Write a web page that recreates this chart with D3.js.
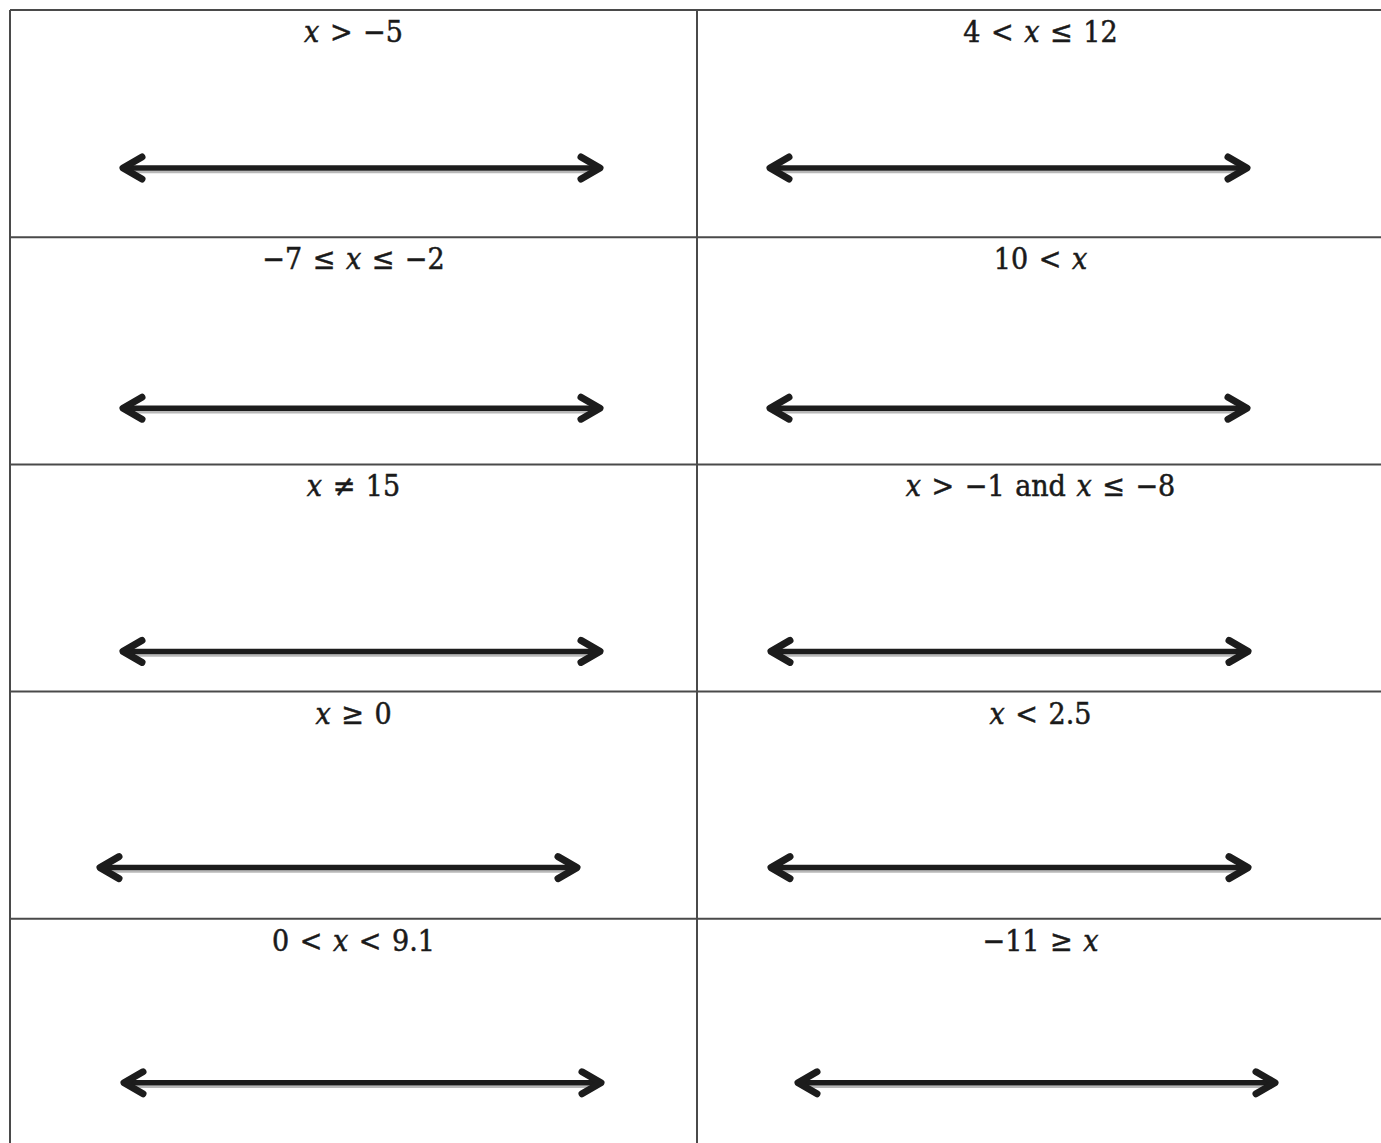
<!DOCTYPE html>
<html>
<head>
<meta charset="utf-8">
<script src="https://cdn.jsdelivr.net/npm/d3@7"></script>
<style>
  body { margin: 0; background: #fff; }
  svg { display: block; }
  .grid line { stroke: #4a4a4a; stroke-width: 2; }
  .label { font-family: "DejaVu Serif Condensed", "DejaVu Serif", serif; font-size: 30px; fill: #1a1a1a; stroke: #1a1a1a; stroke-width: 0.5; word-spacing: 2px; }
  .shadow { stroke: #b8b8b8; stroke-width: 2.5; }
  .axisline { stroke: #1c1c1c; stroke-width: 5.5; stroke-linecap: round; }
  .head { fill: none; stroke: #1c1c1c; stroke-width: 7; stroke-linecap: round; stroke-linejoin: round; }
</style>
</head>
<body>
<div id="sheet"></div>
<script>
// inequalities, read row by row (left column, right column)
var leftLabels  = ["x > −5", "−7 ≤ x ≤ −2", "x ≠ 15", "x ≥ 0", "0 < x < 9.1"];
var rightLabels = ["4 < x ≤ 12", "10 < x", "x > −1 and x ≤ −8", "x < 2.5", "−11 ≥ x"];
var rowIds = [0, 1, 2, 3, 4];
var colIds = [0, 1];

// where each blank number line sits inside its cell (layout only)
var lineLayout = [
    [{ dx: 110, dy: 158 }, { dx: 70, dy: 158 }],
    [{ dx: 110, dy: 171 }, { dx: 70, dy: 171 }],
    [{ dx: 110, dy: 187 }, { dx: 71, dy: 187 }],
    [{ dx: 87,  dy: 176 }, { dx: 71, dy: 176 }],
    [{ dx: 111, dy: 164 }, { dx: 98, dy: 164 }]
];

var dim = { width: 1381, height: 1143, lineLength: 483, head: { len: 22, half: 11 } };

var x = d3.scaleBand().domain(colIds).range([10, 1384]);
var y = d3.scaleBand().domain(rowIds).range([10, 1146]);

var svg = d3.select("#sheet").append("svg")
        .attr("width", dim.width)
        .attr("height", dim.height);

var cells = [];
rowIds.forEach(function(r) {
    colIds.forEach(function(c) {
        cells.push({ row: r, col: c, label: c === 0 ? leftLabels[r] : rightLabels[r], pos: lineLayout[r][c] });
    });
});

// table rules
var grid = svg.append("g").attr("class", "grid");
grid.selectAll("line.h").data(rowIds.concat([5]))
    .enter().append("line")
        .attr("class", "h")
        .attr("x1", x(0))
        .attr("x2", dim.width + 5)
        .attr("y1", function(d) { return d < 5 ? y(d) : y(4) + y.bandwidth(); })
        .attr("y2", function(d) { return d < 5 ? y(d) : y(4) + y.bandwidth(); });
grid.selectAll("line.v").data(colIds)
    .enter().append("line")
        .attr("class", "v")
        .attr("x1", function(d) { return x(d); })
        .attr("x2", function(d) { return x(d); })
        .attr("y1", y(0))
        .attr("y2", dim.height + 5);

var cell = svg.selectAll("g.cell").data(cells)
    .enter().append("g")
        .attr("class", "cell")
        .attr("transform", function(d) { return "translate(" + x(d.col) + "," + y(d.row) + ")"; });

// labels, with x set in italics
var label = cell.append("text")
        .attr("class", "label")
        .attr("x", x.bandwidth() / 2)
        .attr("y", 32)
        .attr("text-anchor", "middle");
label.each(function(d) {
    var t = d3.select(this);
    d.label.split("x").forEach(function(part, i) {
        if (i > 0) t.append("tspan").attr("font-style", "italic").text("x");
        if (part) t.append("tspan").text(part);
    });
});

// blank number lines
cell.each(function(d) {
    var g = d3.select(this);
    var s = d3.scaleLinear().domain([0, 1]).range([d.pos.dx, d.pos.dx + dim.lineLength]);
    var yy = d.pos.dy;
    g.append("line").attr("class", "shadow")
        .attr("x1", s(0) + 8).attr("x2", s(1) - 8)
        .attr("y1", yy + 4).attr("y2", yy + 4);
    g.append("line").attr("class", "axisline")
        .attr("x1", s(0) + 3).attr("x2", s(1) - 3)
        .attr("y1", yy).attr("y2", yy);
    var h = dim.head;
    g.append("path").attr("class", "head")
        .attr("d", d3.line()([[s(0) + h.len, yy - h.half], [s(0) + 3, yy], [s(0) + h.len, yy + h.half]]));
    g.append("path").attr("class", "head")
        .attr("d", d3.line()([[s(1) - h.len, yy - h.half], [s(1) - 3, yy], [s(1) - h.len, yy + h.half]]));
});
</script>
</body>
</html>
